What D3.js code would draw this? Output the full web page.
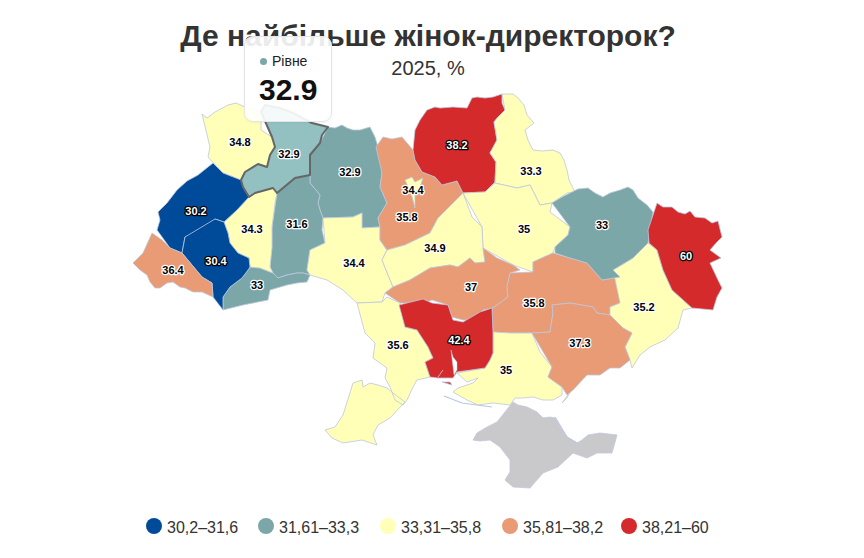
<!DOCTYPE html>
<html lang="uk">
<head>
<meta charset="utf-8">
<script src="https://d3js.org/d3.v7.min.js"></script>
<style>
	body { margin: 0; background: #fff; font-family: "Liberation Sans", Arial, sans-serif; }
	#chart { position: relative; width: 864px; height: 558px; overflow: hidden; }
	svg { display: block; }
	#tip {
		position: absolute; left: 244px; top: 36px; width: 88px; height: 86px; box-sizing: border-box;
		background: rgba(255,255,255,0.9); border: 1px solid #e6e6e6; border-radius: 9px;
		box-shadow: 0 1px 3px rgba(0,0,0,0.05);
	}
	#tip .name { position: absolute; left: 15px; top: 15px; font-size: 14px; color: #222; white-space: nowrap; line-height: 18px; }
	#tip .dot { display: inline-block; width: 7px; height: 7px; border-radius: 50%; margin-right: 5px; vertical-align: 1px; }
	#tip .val { position: absolute; left: 14px; top: 36px; font-size: 30px; font-weight: bold; color: #111; line-height: 34px; }
</style>
</head>
<body>
<div id="chart"></div>
<script>
var title = "Де найбільше жінок-директорок?";
var subtitle = "2025, %";

var regions = ["Волинь", "Рівне", "Житомир", "Хмельницький", "Чернівці", "Тернопіль", "Львів", "Івано-Франківськ", "Закарпаття", "Вінниця", "Київська обл.", "Чернігів", "Суми", "Полтава", "Черкаси", "Кіровоград", "Дніпро", "Донецьк", "Харків", "Луганськ", "Одеса", "Херсон", "Запоріжжя", "Миколаїв", "Київ"];
var values = [34.8, 32.9, 32.9, 31.6, 33, 34.3, 30.2, 30.4, 36.4, 34.4, 35.8, 38.2, 33.3, 35, 34.9, 37, 35.8, 35.2, 33, 60, 35.6, 35, 37.3, 42.4, 34.4];

var binEdges = [31.6, 33.3, 35.8, 38.2];
var binColors = ["#004b99", "#7ba7a8", "#ffffb8", "#e99b75", "#d42a2b"];
var binLabels = ["30,2–31,6", "31,61–33,3", "33,31–35,8", "35,81–38,2", "38,21–60"];
var hovered = "Рівне";

// outlines, in map units
var outlines = {
	"Волинь": [[[202,114],[207,118],[215,112],[228,105],[236,103],[245,107],[261,112],[261,130],[272,137],[275,147],[270,155],[267,167],[258,164],[245,172],[241,180],[223,173],[208,157],[210,147],[202,130]]],
	"Рівне": [[[261,112],[265,105],[280,108],[293,113],[312,123],[328,127],[322,135],[320,143],[310,155],[310,175],[295,178],[277,193],[273,188],[255,193],[249,197],[243,187],[241,180],[245,172],[258,164],[267,167],[270,155],[275,147],[272,137],[261,130]]],
	"Житомир": [[[328,127],[335,128],[342,125],[347,128],[353,130],[360,130],[370,127],[375,137],[378,147],[380,160],[382,173],[380,187],[387,203],[378,218],[380,227],[362,228],[362,213],[353,217],[323,218],[320,210],[318,203],[320,195],[310,183],[310,175],[310,155],[320,143],[322,135]]],
	"Хмельницький": [[[277,193],[295,178],[310,175],[310,183],[320,195],[318,203],[320,210],[323,218],[322,230],[325,243],[310,250],[307,270],[310,275],[303,273],[297,273],[287,275],[278,278],[273,273],[270,267],[272,247],[272,227],[275,203]]],
	"Чернівці": [[[250,267],[260,268],[273,273],[278,278],[287,275],[297,273],[303,273],[310,275],[307,282],[297,283],[287,285],[270,290],[268,300],[243,305],[223,310],[223,297],[230,287],[242,278],[248,270]]],
	"Тернопіль": [[[249,197],[255,193],[273,188],[277,193],[275,203],[272,227],[272,247],[270,267],[273,273],[260,268],[250,267],[249,258],[238,253],[230,243],[228,233],[224,222],[237,210],[248,200]]],
	"Львів": [[[213,163],[223,173],[241,180],[243,187],[249,197],[237,210],[224,222],[215,219],[212,233],[185,237],[182,253],[170,248],[157,230],[160,220],[158,212],[167,203],[177,190],[187,181],[198,175],[208,170]]],
	"Івано-Франківськ": [[[215,219],[224,222],[228,233],[230,243],[238,253],[249,258],[250,267],[248,270],[242,278],[230,287],[223,297],[223,310],[213,297],[212,283],[202,277],[182,253],[185,237],[212,233]]],
	"Закарпаття": [[[152,233],[162,240],[170,248],[182,253],[202,277],[212,283],[213,297],[202,292],[193,292],[185,288],[180,287],[173,282],[167,283],[160,288],[155,288],[150,282],[147,275],[140,270],[133,263],[143,253],[148,247]]],
	"Вінниця": [[[323,218],[353,217],[362,213],[362,228],[380,227],[380,240],[387,250],[382,260],[393,287],[385,293],[382,302],[357,303],[343,290],[327,280],[310,275],[307,270],[310,250],[325,243],[322,230]]],
	"Київська обл.": [[[376,147],[383,137],[392,139],[402,137],[413,150],[415,160],[422,172],[435,177],[442,185],[457,181],[463,193],[452,217],[438,218],[430,233],[405,245],[387,250],[380,240],[380,227],[378,218],[387,203],[380,187],[382,173],[380,160]]],
	"Чернігів": [[[415,130],[420,120],[427,110],[435,107],[440,108],[453,107],[467,108],[472,98],[477,97],[485,98],[493,97],[502,94],[502,103],[505,110],[498,117],[494,122],[497,140],[490,153],[496,162],[495,182],[485,192],[463,193],[457,181],[442,185],[435,177],[422,172],[415,160],[413,150],[418,135]]],
	"Суми": [[[502,94],[513,94],[518,98],[524,105],[527,115],[534,123],[525,130],[528,140],[533,150],[542,151],[553,150],[560,153],[564,160],[567,170],[569,180],[575,192],[567,193],[552,203],[540,205],[530,185],[517,188],[495,183],[495,182],[496,162],[490,153],[497,140],[494,122],[498,117],[505,110],[502,103]]],
	"Полтава": [[[463,193],[485,192],[495,183],[517,188],[530,185],[540,205],[552,203],[550,212],[570,227],[568,235],[555,247],[553,253],[533,262],[533,272],[513,265],[483,248],[482,227],[472,217]]],
	"Черкаси": [[[463,193],[472,217],[482,227],[483,248],[485,262],[475,263],[470,258],[458,267],[450,265],[430,268],[410,280],[393,287],[382,260],[387,250],[405,245],[430,233],[438,218],[452,217]]],
	"Кіровоград": [[[385,293],[393,287],[410,280],[430,268],[450,265],[458,267],[470,258],[475,263],[485,262],[483,248],[497,258],[513,265],[520,270],[510,273],[507,287],[508,297],[493,308],[483,310],[478,320],[463,320],[452,317],[448,305],[432,300],[423,303],[400,303],[385,297]]],
	"Дніпро": [[[533,272],[533,262],[553,253],[570,258],[587,263],[602,280],[620,277],[620,303],[610,307],[610,315],[597,313],[593,307],[570,303],[552,305],[553,313],[550,332],[532,333],[510,333],[493,332],[492,308],[493,308],[508,297],[507,287],[510,273],[520,270]]],
	"Донецьк": [[[613,270],[633,258],[648,243],[657,250],[663,270],[672,290],[692,308],[683,310],[678,328],[665,340],[650,347],[640,355],[632,368],[630,360],[625,347],[632,333],[623,328],[610,315],[610,307],[620,303],[620,277]]],
	"Харків": [[[552,203],[562,197],[570,193],[578,189],[588,188],[595,193],[603,197],[610,193],[620,190],[628,187],[633,190],[638,198],[647,205],[653,212],[648,243],[633,258],[613,270],[620,277],[602,280],[587,263],[570,258],[555,253],[555,247],[568,235],[570,227],[550,212]]],
	"Луганськ": [[[657,203],[663,207],[672,207],[678,212],[685,214],[690,211],[695,217],[705,218],[712,223],[718,221],[722,237],[717,242],[710,250],[721,258],[710,263],[718,280],[722,288],[717,297],[713,310],[692,308],[672,290],[663,270],[657,250],[649,243],[648,230],[653,212]]],
	"Одеса": [[[357,303],[382,302],[387,297],[400,303],[402,313],[405,327],[417,330],[428,347],[433,358],[425,362],[430,377],[417,380],[413,387],[407,400],[403,405],[395,400],[390,387],[385,378],[387,368],[373,358],[375,343],[365,333],[360,313]],
		[[353,383],[362,380],[363,387],[370,383],[378,385],[387,388],[393,393],[405,402],[402,405],[390,418],[378,425],[373,435],[377,445],[362,440],[343,443],[332,438],[325,430],[335,427],[343,415],[352,405]]],
	"Херсон": [[[457,373],[485,368],[490,360],[493,353],[493,332],[510,333],[532,333],[540,352],[552,367],[548,377],[562,387],[562,395],[553,400],[543,400],[533,397],[523,398],[515,398],[510,405],[493,403],[478,405],[467,400],[453,392],[458,388],[473,383],[478,378],[467,382],[457,378]],
		[[562,403],[567,398],[570,392],[565,403]]],
	"Запоріжжя": [[[532,333],[550,332],[553,313],[552,305],[570,303],[593,307],[597,313],[610,315],[623,328],[632,333],[625,347],[630,360],[620,368],[610,368],[600,375],[587,375],[573,390],[567,395],[562,387],[548,377],[552,367],[540,352]]],
	"Миколаїв": [[[399,305],[423,299],[432,303],[448,305],[453,320],[463,322],[480,312],[492,308],[493,332],[493,353],[490,360],[485,368],[457,372],[453,378],[438,378],[430,377],[425,362],[433,358],[428,347],[417,330],[405,327],[402,313]],
		[[442,382],[450,382],[452,385],[447,385]]],
	"Київ": [[[405,180],[412,177],[415,182],[423,178],[420,187],[415,193],[415,208],[411,193],[403,187]]]
};

var crimea = [[513,402],[518,405],[527,407],[537,412],[543,418],[550,417],[555,418],[560,427],[567,437],[577,443],[582,440],[588,435],[600,433],[617,435],[612,453],[597,453],[587,458],[573,453],[558,467],[543,473],[530,488],[513,487],[505,480],[510,472],[510,460],[500,447],[490,440],[480,441],[473,440],[477,433],[487,427],[497,422],[515,413]];
// Dnipro estuary and coast spits
var waters = [[[451,350],[453,357],[457,362],[457,370],[454,375],[453,363]], [[438,377],[443,370],[442,377]]];
var spits = [[[444,396],[462,403],[492,407]], [[555,417],[567,437],[577,443]]];

var labelPoints = {
	"Волинь": [240,142], "Рівне": [289,154], "Житомир": [350,172], "Хмельницький": [297,224], "Чернівці": [257,285],
	"Тернопіль": [252,229], "Львів": [196,211], "Івано-Франківськ": [216,261], "Закарпаття": [173,270], "Вінниця": [354,263],
	"Київська обл.": [407,217], "Чернігів": [457,145], "Суми": [531,171], "Полтава": [524,229], "Черкаси": [435,248],
	"Кіровоград": [471,287], "Дніпро": [534,303], "Донецьк": [644,307], "Харків": [602,225], "Луганськ": [686,256],
	"Одеса": [398,345], "Херсон": [506,370], "Запоріжжя": [580,343], "Миколаїв": [459,340], "Київ": [413,190]
};

var width = 864, height = 558;
var color = d3.scaleThreshold().domain(binEdges).range(binColors);
var path = d3.geoPath(d3.geoIdentity());
var valueOf = {};
regions.forEach(function(name, i) { valueOf[name] = values[i]; });

var chart = d3.select("#chart");
var svg = chart.append("svg").attr("width", width).attr("height", height);

svg.append("text").attr("x", 428).attr("y", 46)
	.attr("text-anchor", "middle").attr("font-size", 30).attr("font-weight", "bold").attr("fill", "#333")
	.text(title);
svg.append("text").attr("x", 428).attr("y", 75)
	.attr("text-anchor", "middle").attr("font-size", 20).attr("fill", "#333")
	.text(subtitle);

var map = svg.append("g");

map.append("path")
	.attr("d", path({type: "Polygon", coordinates: [crimea]}))
	.attr("fill", "#c9c9cc").attr("stroke", "#c2c8dc").attr("stroke-width", 0.8);

var drawOrder = regions.filter(function(name) { return name !== hovered; }).concat([hovered]);

map.selectAll("path.region")
	.data(drawOrder)
	.enter().append("path")
	.attr("class", "region")
	.attr("d", function(d) { return path({type: "MultiPolygon", coordinates: outlines[d].map(function(r) { return [r]; })}); })
	.attr("fill", function(d) { return d === hovered ? "#93c0c0" : color(valueOf[d]); })
	.attr("stroke", function(d) { return d === hovered ? "#666" : "#bcc6dc"; })
	.attr("stroke-width", function(d) { return d === hovered ? 2 : 0.8; })
	.attr("stroke-linejoin", "round");

map.selectAll("path.water")
	.data(waters)
	.enter().append("path")
	.attr("class", "water")
	.attr("d", function(d) { return path({type: "Polygon", coordinates: [d]}); })
	.attr("fill", "#fff").attr("stroke", "#c2c8dc").attr("stroke-width", 0.5);

map.selectAll("path.spit")
	.data(spits)
	.enter().append("path")
	.attr("class", "spit")
	.attr("d", function(d) { return path({type: "LineString", coordinates: d}); })
	.attr("fill", "none").attr("stroke", "#bcc6dc").attr("stroke-width", 1.2);

function isDark(v) {
	var c = color(v);
	return c === binColors[0] || c === binColors[4];
}

map.selectAll("text.lab")
	.data(regions)
	.enter().append("text")
	.attr("class", "lab")
	.attr("x", function(d) { return labelPoints[d][0]; })
	.attr("y", function(d) { return labelPoints[d][1]; })
	.attr("text-anchor", "middle").attr("dominant-baseline", "central")
	.attr("font-size", 11).attr("font-weight", "bold")
	.attr("paint-order", "stroke").attr("stroke-width", 2.5).attr("stroke-linejoin", "round")
	.attr("fill", function(d) { return isDark(valueOf[d]) ? "#fff" : "#000"; })
	.attr("stroke", function(d) { return isDark(valueOf[d]) ? "#000" : "#fff"; })
	.text(function(d) { return valueOf[d]; });

var legendOffsets = [154, 266, 388, 510, 629];
var legend = svg.selectAll("g.legend")
	.data(binLabels)
	.enter().append("g")
	.attr("class", "legend")
	.attr("transform", function(d, i) { return "translate(" + legendOffsets[i] + ",526)"; });
legend.append("circle").attr("r", 8).attr("fill", function(d, i) { return binColors[i]; });
legend.append("text").attr("x", 13).attr("y", 7)
	.attr("font-size", 16).attr("fill", "#333")
	.text(function(d) { return d; });

var tip = chart.append("div").attr("id", "tip");
var tipName = tip.append("div").attr("class", "name");
tipName.append("span").attr("class", "dot").style("background", "#7ba7a8");
tipName.append("span").text(hovered);
tip.append("div").attr("class", "val").text(valueOf[hovered]);
</script>
</body>
</html>
